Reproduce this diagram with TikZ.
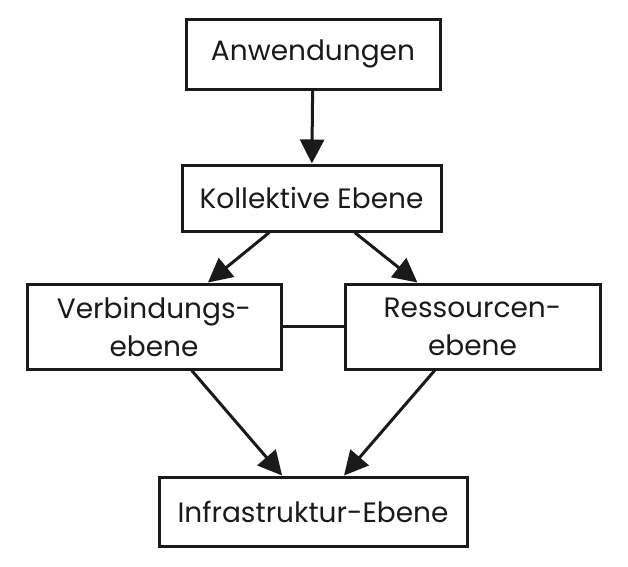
\documentclass[tikz,border=0pt]{standalone}
\usepackage{fontspec}
\setmainfont{Poppins}
\usetikzlibrary{arrows.meta}
\definecolor{ink}{HTML}{1A1A1A}
\begin{document}
\begin{tikzpicture}[x=1pt,y=-1pt,
  box/.style={draw=ink,line width=3pt,fill=white,text=ink,inner sep=0pt,
    font=\fontsize{28}{38}\selectfont,align=center},
  arr/.style={draw=ink,line width=3pt,-{Triangle[length=24pt,width=24pt]}},
  link/.style={draw=ink,line width=3pt}]
\useasboundingbox (0,0) rectangle (628,566);
\node[box,minimum width=254pt,minimum height=70pt] (app) at (313,54) {Anwendungen};
\node[box,minimum width=259pt,minimum height=66pt] (kol) at (311.5,198) {Kollektive Ebene};
\node[box,minimum width=254pt,minimum height=85pt] (ver) at (154,326.5) {Verbindungs-\\ebene};
\node[box,minimum width=255pt,minimum height=85pt] (res) at (472.5,326.5) {Ressourcen-\\ebene};
\node[box,minimum width=308pt,minimum height=69pt] (inf) at (313,511.5) {Infrastruktur-Ebene};
\draw[arr] (app) -- (kol);
\draw[arr] (kol) -- (ver);
\draw[arr] (kol) -- (res);
\draw[arr] (ver) -- (inf);
\draw[arr] (res) -- (inf);
\draw[link] (ver) -- (res);
\end{tikzpicture}
\end{document}
